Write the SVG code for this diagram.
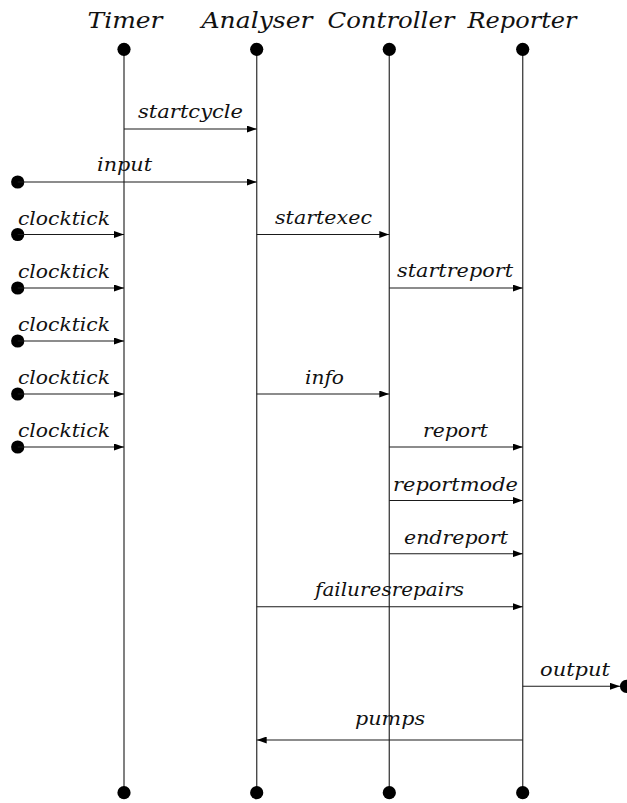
<svg xmlns="http://www.w3.org/2000/svg" width="627" height="803" viewBox="0 0 627 803">
  <style>
    .head { font-family: "DejaVu Serif", "Liberation Serif", serif; font-style: italic; font-size: 23px; fill: #111; text-anchor: middle; }
    .lbl { font-family: "DejaVu Serif", "Liberation Serif", serif; font-style: italic; font-size: 18px; fill: #111; text-anchor: middle; }
    .life { stroke: #4a4a4a; stroke-width: 1.4; fill: none; }
    .msg { stroke: #1a1a1a; stroke-width: 1.1; fill: none; marker-end: url(#arrow); }
    .dot { fill: #000; }
  </style>
  <defs>
    <marker id="arrow" markerUnits="userSpaceOnUse" markerWidth="10" markerHeight="7" refX="10" refY="3.5" orient="auto">
      <path d="M0,0 L10,3.5 L0,7 z" fill="#000"/>
    </marker>
  </defs>

  <rect width="627" height="803" fill="#fff"/>

  <!-- lifelines -->
  <g id="timer">
    <text class="head" x="125" y="28" textLength="75" lengthAdjust="spacingAndGlyphs">Timer</text>
    <line class="life" x1="124" y1="49.3" x2="124" y2="792.7"/>
    <circle class="dot" cx="124" cy="49.3" r="6.6"/>
    <circle class="dot" cx="124" cy="792.7" r="6.6"/>
  </g>
  <g id="analyser">
    <text class="head" x="257" y="28" textLength="111" lengthAdjust="spacingAndGlyphs">Analyser</text>
    <line class="life" x1="256.7" y1="49.3" x2="256.7" y2="792.7"/>
    <circle class="dot" cx="256.7" cy="49.3" r="6.6"/>
    <circle class="dot" cx="256.7" cy="792.7" r="6.6"/>
  </g>
  <g id="controller">
    <text class="head" x="391" y="28" textLength="127" lengthAdjust="spacingAndGlyphs">Controller</text>
    <line class="life" x1="389.3" y1="49.3" x2="389.3" y2="792.7"/>
    <circle class="dot" cx="389.3" cy="49.3" r="6.6"/>
    <circle class="dot" cx="389.3" cy="792.7" r="6.6"/>
  </g>
  <g id="reporter">
    <text class="head" x="522" y="28" textLength="109" lengthAdjust="spacingAndGlyphs">Reporter</text>
    <line class="life" x1="522.7" y1="49.3" x2="522.7" y2="792.7"/>
    <circle class="dot" cx="522.7" cy="49.3" r="6.6"/>
    <circle class="dot" cx="522.7" cy="792.7" r="6.6"/>
  </g>

  <!-- environment endpoints -->
  <g id="environment">
    <circle class="dot" cx="17.7" cy="182" r="6.6"/>
    <circle class="dot" cx="17.7" cy="234.5" r="6.6"/>
    <circle class="dot" cx="17.7" cy="288" r="6.6"/>
    <circle class="dot" cx="17.7" cy="341" r="6.6"/>
    <circle class="dot" cx="17.7" cy="394" r="6.6"/>
    <circle class="dot" cx="17.7" cy="447" r="6.6"/>
    <circle class="dot" cx="626.5" cy="686.3" r="6.6"/>
  </g>

  <!-- messages -->
  <g id="connectors">
    <line class="msg" x1="124" y1="129" x2="256.7" y2="129"/>
    <line class="msg" x1="17.7" y1="182" x2="256.7" y2="182"/>
    <line class="msg" x1="17.7" y1="234.5" x2="124" y2="234.5"/>
    <line class="msg" x1="256.7" y1="234.5" x2="389.3" y2="234.5"/>
    <line class="msg" x1="17.7" y1="288" x2="124" y2="288"/>
    <line class="msg" x1="389.3" y1="288" x2="522.7" y2="288"/>
    <line class="msg" x1="17.7" y1="341" x2="124" y2="341"/>
    <line class="msg" x1="17.7" y1="394" x2="124" y2="394"/>
    <line class="msg" x1="256.7" y1="394" x2="389.3" y2="394"/>
    <line class="msg" x1="17.7" y1="447" x2="124" y2="447"/>
    <line class="msg" x1="389.3" y1="447" x2="522.7" y2="447"/>
    <line class="msg" x1="389.3" y1="500.5" x2="522.7" y2="500.5"/>
    <line class="msg" x1="389.3" y1="553.7" x2="522.7" y2="553.7"/>
    <line class="msg" x1="256.7" y1="606.7" x2="522.7" y2="606.7"/>
    <line class="msg" x1="522.7" y1="686.3" x2="620" y2="686.3"/>
    <line class="msg" x1="522.7" y1="740" x2="256.7" y2="740"/>

    <text class="lbl" x="190.5" y="117.5" textLength="105" lengthAdjust="spacingAndGlyphs">startcycle</text>
    <text class="lbl" x="124.5" y="171" textLength="55" lengthAdjust="spacingAndGlyphs">input</text>
    <text class="lbl" x="64" y="224.5" textLength="92" lengthAdjust="spacingAndGlyphs">clocktick</text>
    <text class="lbl" x="323.5" y="223.5" textLength="97" lengthAdjust="spacingAndGlyphs">startexec</text>
    <text class="lbl" x="64" y="278" textLength="92" lengthAdjust="spacingAndGlyphs">clocktick</text>
    <text class="lbl" x="455" y="277" textLength="116" lengthAdjust="spacingAndGlyphs">startreport</text>
    <text class="lbl" x="64" y="331" textLength="92" lengthAdjust="spacingAndGlyphs">clocktick</text>
    <text class="lbl" x="64" y="384" textLength="92" lengthAdjust="spacingAndGlyphs">clocktick</text>
    <text class="lbl" x="324.5" y="383.5" textLength="39" lengthAdjust="spacingAndGlyphs">info</text>
    <text class="lbl" x="64" y="437" textLength="92" lengthAdjust="spacingAndGlyphs">clocktick</text>
    <text class="lbl" x="455.5" y="436.5" textLength="65" lengthAdjust="spacingAndGlyphs">report</text>
    <text class="lbl" x="455.5" y="490.5" textLength="125" lengthAdjust="spacingAndGlyphs">reportmode</text>
    <text class="lbl" x="456" y="543.5" textLength="104" lengthAdjust="spacingAndGlyphs">endreport</text>
    <text class="lbl" x="389.5" y="596" textLength="149" lengthAdjust="spacingAndGlyphs">failuresrepairs</text>
    <text class="lbl" x="575" y="675.5" textLength="70" lengthAdjust="spacingAndGlyphs">output</text>
    <text class="lbl" x="390" y="725" textLength="70" lengthAdjust="spacingAndGlyphs">pumps</text>
  </g>
</svg>
